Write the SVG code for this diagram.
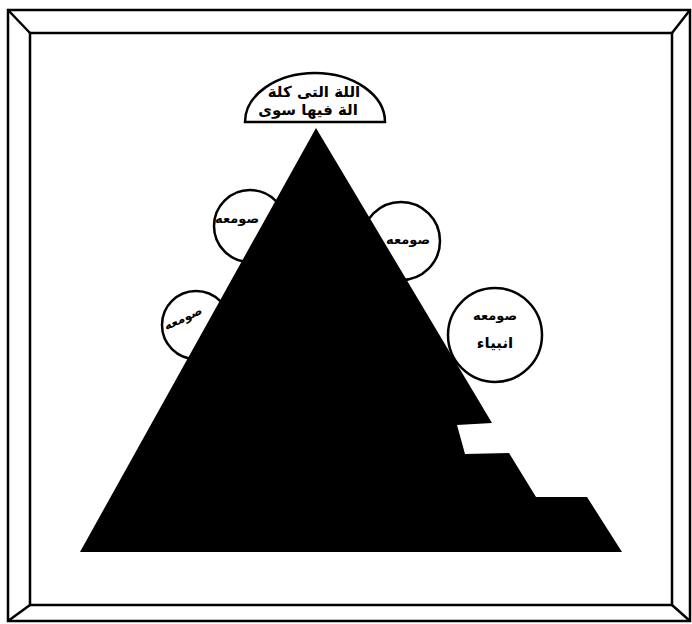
<svg xmlns="http://www.w3.org/2000/svg" width="692" height="624" viewBox="0 0 692 624">
<style>
.frame{fill:none;stroke:#000;stroke-width:2.5;stroke-linejoin:miter}
.node{fill:#fff;stroke:#000;stroke-width:2.5}
.t{font-family:"DejaVu Sans","Noto Sans",sans-serif;font-weight:bold;fill:#000;text-anchor:middle}
</style>
<rect width="692" height="624" fill="#fff"/>
<g id="frame" class="frame">
<rect x="8" y="10" width="682" height="611"/>
<rect x="30" y="33" width="642" height="572"/>
<line x1="8" y1="10" x2="30" y2="33"/>
<line x1="690" y1="10" x2="672" y2="33"/>
<line x1="8" y1="621" x2="30" y2="605"/>
<line x1="690" y1="621" x2="672" y2="605"/>
</g>
<g id="dome">
<path class="node" d="M245,122 A70,49 0 0 1 385,122 Z"/>
<text class="t" x="314" y="97" font-size="15" direction="rtl">اللة التى كلة</text>
<text class="t" x="308" y="115" font-size="15" direction="rtl">الة فيها سوى</text>
</g>
<g id="circle-upper-left">
<circle class="node" cx="250" cy="226" r="36"/>
<text class="t" x="237" y="223" font-size="13" direction="rtl">صومعه</text>
</g>
<g id="circle-lower-left">
<circle class="node" cx="196" cy="325" r="34"/>
<text class="t" x="183" y="322" font-size="12" direction="rtl" transform="rotate(-25 183 318)">صومعه</text>
</g>
<g id="circle-upper-right">
<circle class="node" cx="401" cy="241" r="39"/>
<text class="t" x="408" y="244" font-size="13" direction="rtl">صومعه</text>
</g>
<g id="circle-right">
<circle class="node" cx="495" cy="335" r="47"/>
<text class="t" x="495" y="320" font-size="13" direction="rtl">صومعه</text>
<text class="t" x="495" y="348" font-size="15" direction="rtl">انبياء</text>
</g>
<g id="pyramid">
<path d="M316,128 L492,423 L457,425 L465,454 L509,453 L536,497 L587,497 L622,552 L80,552 Z" fill="#000"/>
</g>
<g id="connectors"></g>
</svg>
